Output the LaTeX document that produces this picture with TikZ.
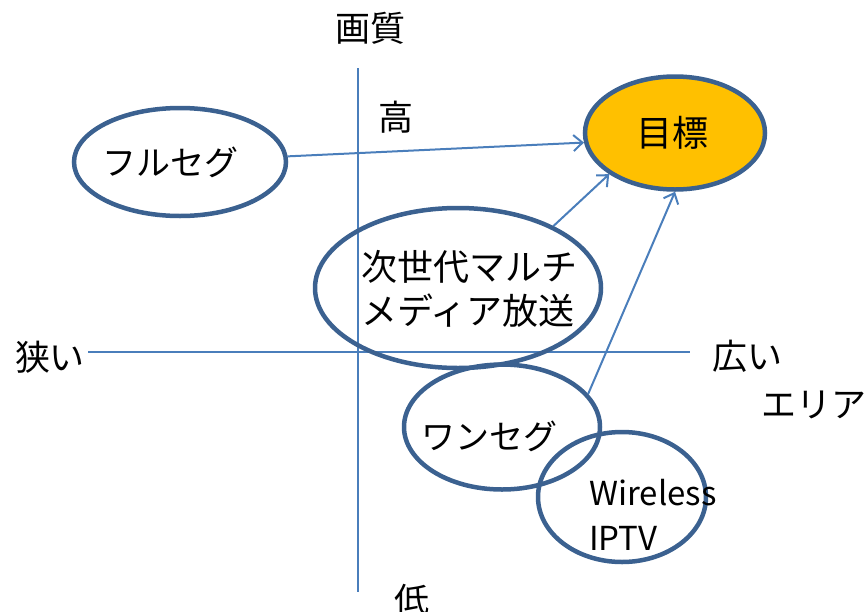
\documentclass[tikz,border=0pt]{standalone}
\usepackage{fontspec}
\setmainfont{Noto Sans CJK JP}
\usetikzlibrary{shapes.geometric,arrows.meta}
\definecolor{ringblue}{HTML}{3B6190}
\definecolor{lineblue}{HTML}{4A7EBB}
\definecolor{goalfill}{HTML}{FFC000}
\tikzset{
  axisline/.style={draw=lineblue, line width=2pt},
  ring/.style={ellipse, draw=ringblue, line width=4.5pt, inner sep=0pt},
  conn/.style={draw=lineblue, line width=2pt, -{Straight Barb[length=9pt,width=16pt,line width=2pt]}},
  lbl/.style={font=\fontsize{35}{40}\selectfont, inner sep=0pt},
  kana/.style={font=\fontsize{34}{40}\selectfont, inner sep=0pt},
  kanji/.style={font=\fontsize{36}{40}\selectfont, inner sep=0pt},
  latin/.style={font=\fontsize{33}{40}\selectfont, inner sep=0pt},
}
\begin{document}
\begin{tikzpicture}[x=1pt,y=-1pt]
\useasboundingbox (0,0) rectangle (865,611);
% axes
\coordinate (vtop) at (358,68);
\coordinate (vbot) at (358,592);
\coordinate (hl) at (88,352);
\coordinate (hr) at (690,352);
\draw[axisline] (vtop) -- (vbot);
\draw[axisline] (hl) -- (hr);
% axis labels
\node[lbl] (quality) at (370,28) {画質};
\node[lbl] (high) at (396,117) {高};
\node[lbl] (low) at (412,600) {低};
\node[lbl] (narrow) at (50,357) {狭い};
\node[lbl] (wide) at (747,356) {広い};
\node[lbl] (area) at (814,405) {エリア};
% ellipses
\node[ring, minimum width=212pt, minimum height=108pt] (full) at (180,162) {};
\node[kana] (fulltxt) at (170,162) {フルセグ};
\node[ring, fill=goalfill, minimum width=180pt, minimum height=113pt] (goal) at (675,133) {};
\node[kanji] (goaltxt) at (672,133) {目標};
\node[ring, minimum width=286pt, minimum height=160pt] (next) at (458,288) {};
\node[kanji, anchor=west] (nexta) at (361,267) {次世代マルチ};
\node[kanji, anchor=west] (nextb) at (361,311) {メディア放送};
\node[ring, minimum width=196pt, minimum height=125pt] (oneseg) at (502,427) {};
\node[kana] (onesegtxt) at (489,436) {ワンセグ};
\node[ring, minimum width=168pt, minimum height=130pt] (wire) at (622,497) {};
\node[latin, anchor=base west] (wa) at (589,505) {Wireless};
\node[latin, anchor=base west] (wb) at (589,550) {IPTV};
% connectors
\draw[conn] (full.3) -- (goal.186);
\draw[conn] (next.33) -- (goal.212);
\draw[conn] (oneseg.21) -- (goal.270);
\end{tikzpicture}
\end{document}
